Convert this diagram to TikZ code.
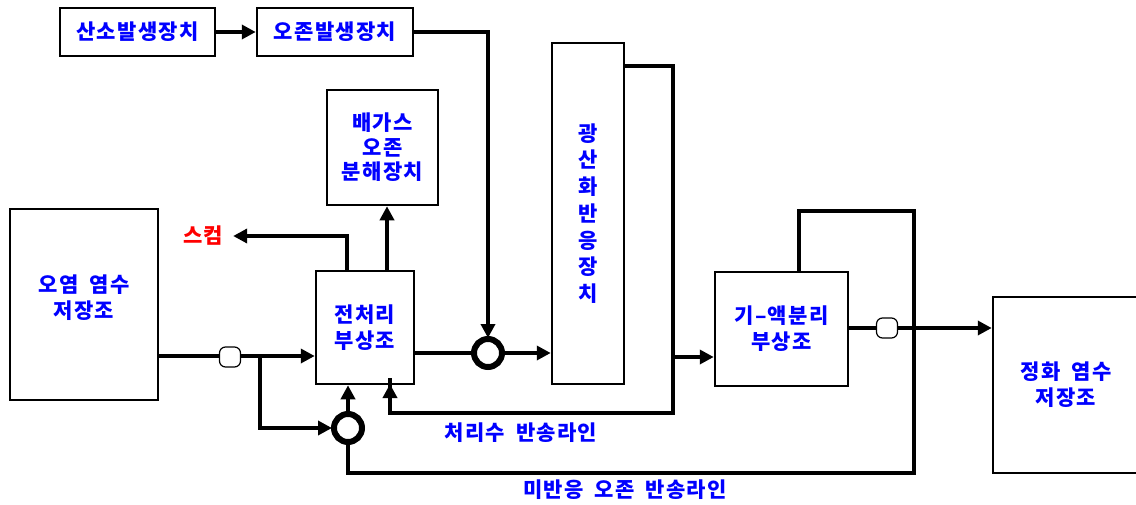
\documentclass[tikz,border=0pt]{standalone}
\usepackage{fontspec}
\setmainfont{Noto Sans CJK KR}[WordSpace=1.8, LetterSpace=6]
\usetikzlibrary{arrows.meta}
\begin{document}
\begin{tikzpicture}[x=1pt,y=-1pt,
  box/.style={draw, line width=2.5pt, fill=white, font=\bfseries\fontsize{21}{26}\selectfont, text=blue, align=center, inner sep=0pt},
  lbl/.style={font=\bfseries\fontsize{21}{26}\selectfont, text=blue, align=center, inner sep=0pt},
  line/.style={line width=4pt},
  arr/.style={line width=4pt, -{Triangle[length=14pt,width=14pt]}},
  valve/.style={draw, line width=1.2pt, fill=white, rounded corners=6pt, minimum width=21pt, minimum height=20pt, inner sep=0pt},
  pump/.style={circle, draw, line width=6pt, fill=white, minimum size=28pt, inner sep=0pt}]
\useasboundingbox (0,0) rectangle (1136,504);
% boxes
\node[box, minimum width=155pt, minimum height=48pt] (oxy) at (137.5,32) {산소발생장치};
\node[box, minimum width=156pt, minimum height=48pt] (ozone) at (335,32) {오존발생장치};
\node[box, minimum width=111pt, minimum height=115pt, font=\bfseries\fontsize{21}{24.5}\selectfont] (offgas) at (382.5,147.5) {배가스\\오존\\분해장치};
\node[box, minimum width=72pt, minimum height=341pt, font=\bfseries\fontsize{21}{26.7}\selectfont] (reactor) at (588,213.5) {광\\산\\화\\반\\응\\장\\치};
\node[box, minimum width=148pt, minimum height=191pt] (raw) at (84,304.5) {};
\node[lbl] (rawt) at (84,298) {오염 염수\\저장조};
\node[box, minimum width=98pt, minimum height=113pt] (pre) at (365,327.5) {전처리\\부상조};
\node[box, minimum width=133pt, minimum height=114pt] (gl) at (781.5,329) {기–액분리\\부상조};
\node[box, minimum width=146pt, minimum height=176pt] (clean) at (1066,385) {정화 염수\\저장조};
% labels
\node[font=\bfseries\fontsize{21}{26}\selectfont, text=red, inner xsep=10pt, inner ysep=0pt] (skim) at (203,236) {스컴};
\node[lbl] (retlbl) at (521,433) {처리수 반송라인};
\node[lbl] (o3lbl) at (625,490) {미반응 오존 반송라인};
% junction coordinates
\coordinate (j1) at (260,356);
\coordinate (c1) at (673,66);
\coordinate (c2) at (673,413);
\coordinate (c3) at (673,357);
\coordinate (u1) at (799,211);
\coordinate (u2) at (914,211);
\coordinate (u3) at (914,473);
% connectors
\draw[arr] (oxy) -- (ozone);
\draw[line] (raw.east |- j1) -- (j1);
\draw[arr] (j1) -- (pre.west |- j1);
\draw[arr] (ozone.east) -| ([yshift=-2pt]488,336);
\draw[line] (reactor.north east |- c1) -- (c1) -- (c2) -| ([yshift=6pt]390,384);
\draw[arr] (c2) -| (390,384);
\draw[arr] (c3) -- (gl.west |- c3);
\draw[arr] ([xshift=-18pt]pre.north) |- (skim.east);
\draw[arr] ([xshift=22pt]pre.north) -- ([xshift=4.5pt]offgas.south);
\draw[arr] (pre.east |- 0,353) -- (reactor.west |- 0,353);
\draw[line] (u1 |- gl.north) -- (u1) -- (u2) -- (u3) -| (348,428);
\draw[arr] (j1) |- (332,428);
\draw[arr] (348,428) -- (pre.south -| 348,0);
\draw[line] (gl.east |- 0,328) -- (887,328);
\draw[arr] (887,328) -- (clean.west |- 0,328);
% valves and pumps
\node[valve] (v1) at (230,357) {};
\node[valve] (v2) at (887,328) {};
\node[pump] (p1) at (348,428) {};
\node[pump] (p2) at (488,353) {};
\end{tikzpicture}
\end{document}
